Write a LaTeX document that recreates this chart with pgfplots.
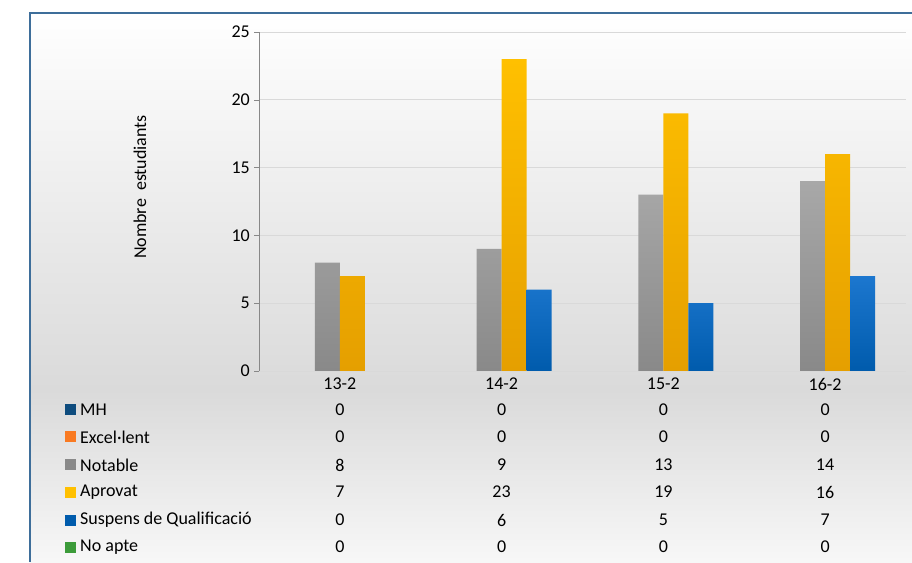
\documentclass[border=0pt]{standalone}
\usepackage{pgfplots}
\pgfplotsset{compat=1.18}
\usepackage{fontspec}
\setmainfont{Carlito}
\definecolor{framec}{HTML}{3E6E9A}
\definecolor{bgmid}{HTML}{DADADA}
\definecolor{gridc}{HTML}{D9D9D9}
\definecolor{axisc}{HTML}{888888}
\definecolor{mhc}{HTML}{0E4C7E}
\definecolor{exc}{HTML}{F97A22}
\definecolor{notT}{HTML}{A8A8A8}
\definecolor{notB}{HTML}{898989}
\definecolor{aprT}{HTML}{FFC000}
\definecolor{aprB}{HTML}{E59F00}
\definecolor{susT}{HTML}{1C77CF}
\definecolor{susB}{HTML}{005BAC}
\definecolor{noc}{HTML}{3C9B3A}
\begin{document}
\fontsize{18}{21}\selectfont
\begin{tikzpicture}[x=1pt,y=1pt]
\useasboundingbox (0,0) rectangle (912,562);
\fill[white] (0,0) rectangle (912,562);
\shade[top color=white, bottom color=bgmid] (30,549) rectangle (912,172);
\shade[top color=bgmid, bottom color=white!97!black] (30,172) rectangle (912,0);
\draw[framec, line width=1.5pt] (30,0) -- (30,549) -- (912,549);
\begin{axis}[
  at={(259pt,191pt)}, anchor=south west,
  scale only axis, width=647pt, height=339pt,
  xmin=-0.5, xmax=3.5, ymin=0, ymax=25,
  ytick={0,5,...,25},
  xtick={0,1,2,3}, xticklabels={13-2,14-2,15-2,16-2},
  axis x line*=bottom, axis y line*=left,
  y axis line style={axisc},
  x axis line style={draw=none},
  ymajorgrids, grid style={gridc, line width=0.8pt},
  major x tick style={draw=none},
  major y tick style={axisc},
  tick align=outside, major tick length=5pt,
  ybar=0pt, bar width=25pt,
  /pgf/number format/assume math mode=true,
  tick label style={font=\fontsize{18}{21}\selectfont, text=black},
  yticklabel style={inner sep=0pt, xshift=-4pt},
  xticklabel style={inner sep=0pt, yshift=-2pt},
]
\addplot[fill=none, draw=none] coordinates {(0,0) (1,0) (2,0) (3,0)};
\addplot[fill=none, draw=none] coordinates {(0,0) (1,0) (2,0) (3,0)};
\addplot[draw=none, top color=notT, bottom color=notB] coordinates {(0,8) (1,9) (2,13) (3,14)};
\addplot[draw=none, top color=aprT, bottom color=aprB] coordinates {(0,7) (1,23) (2,19) (3,16)};
\addplot[draw=none, top color=susT, bottom color=susB] coordinates {(1,6) (2,5) (3,7)};
\addplot[fill=none, draw=none] coordinates {(0,0) (1,0) (2,0) (3,0)};
\end{axis}
\node[rotate=90] at (140,375) {Nombre\ \ estudiants};
% data table
\foreach \lab/\col/\y/\a/\b/\c/\d in {
  MH/mhc/152/0/0/0/0,
  Excel·lent/exc/125/0/0/0/0,
  Notable/notB/97/8/9/13/14,
  Aprovat/aprT/70/7/23/19/16,
  Suspens de Qualificació/susB/42/0/6/5/7,
  No apte/noc/15/0/0/0/0}{
  \fill[\col] (65,\y-5.5) rectangle (76,\y+5.5);
  \node[anchor=west, inner sep=0pt] at (80,\y) {\lab};
  \node at (339.9,\y) {\a};
  \node at (501.6,\y) {\b};
  \node at (663.4,\y) {\c};
  \node at (825.1,\y) {\d};
}
\end{tikzpicture}
\end{document}
